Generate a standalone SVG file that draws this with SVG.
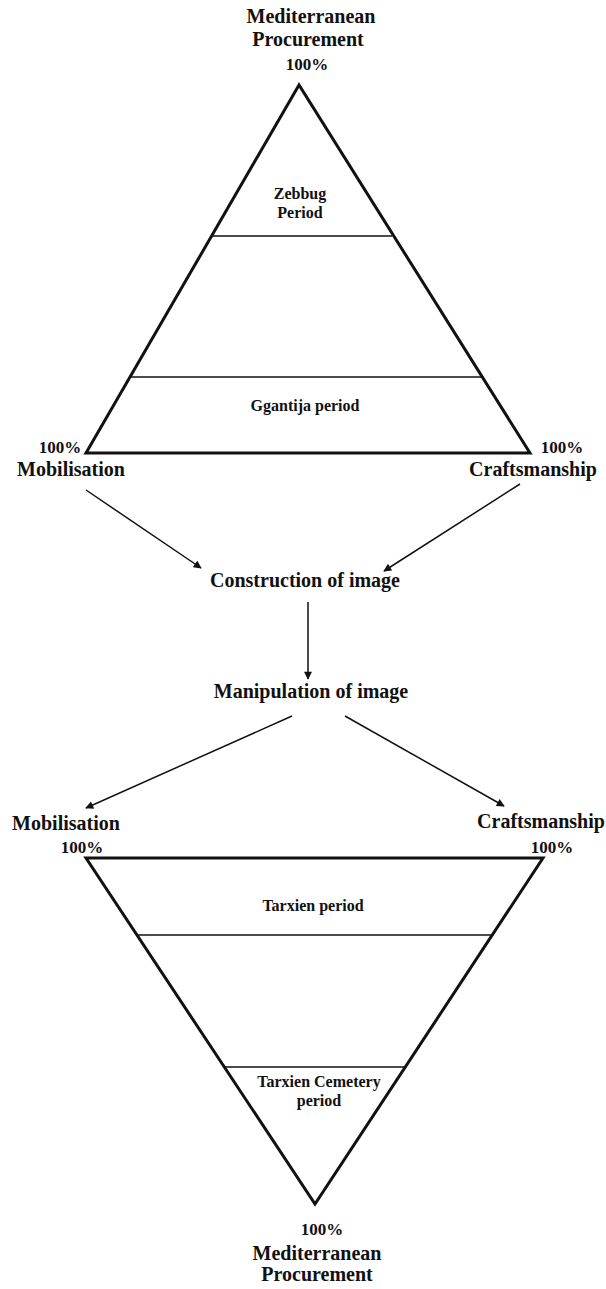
<svg xmlns="http://www.w3.org/2000/svg" width="606" height="1289" viewBox="0 0 606 1289">
<style>
text{font-family:"Liberation Serif","Times New Roman",serif;font-weight:bold;fill:#111;text-anchor:middle}
.lg{font-size:20px}
.pc{font-size:17px}
.in{font-size:16px}
.tri{fill:none;stroke:#111;stroke-width:3;stroke-linejoin:miter}
.band{stroke:#111;stroke-width:1.6}
.arr{stroke:#111;stroke-width:1.5;fill:none;marker-end:url(#ah)}
</style>
<defs>
<marker id="ah" viewBox="0 0 10 10" refX="9" refY="5" markerWidth="9" markerHeight="8" markerUnits="userSpaceOnUse" orient="auto">
<path d="M0,0 L10,5 L0,10 z" fill="#111"/>
</marker>
</defs>
<rect width="606" height="1289" fill="#fff"/>
<g id="top-triangle">
<polygon class="tri" points="299,85 86,453 530,453"/>
<line class="band" x1="212" y1="236" x2="392" y2="236"/>
<line class="band" x1="130" y1="377" x2="482" y2="377"/>
<text class="in" x="300" y="199">Zebbug</text>
<text class="in" x="300" y="218">Period</text>
<text class="in" x="305" y="411">Ggantija period</text>
</g>
<g id="top-apex">
<text class="lg" x="311" y="23">Mediterranean</text>
<text class="lg" x="308" y="46">Procurement</text>
<text class="pc" x="307" y="70">100%</text>
</g>
<g id="top-left">
<text class="pc" x="60" y="453">100%</text>
<text class="lg" x="71" y="476">Mobilisation</text>
</g>
<g id="top-right">
<text class="pc" x="562" y="453">100%</text>
<text class="lg" x="533" y="476">Craftsmanship</text>
</g>
<g id="construction">
<text class="lg" x="305" y="587">Construction of image</text>
</g>
<g id="manipulation">
<text class="lg" x="311" y="698">Manipulation of image</text>
</g>
<g id="bottom-left">
<text class="lg" x="66" y="830">Mobilisation</text>
<text class="pc" x="82" y="853">100%</text>
</g>
<g id="bottom-right">
<text class="lg" x="541" y="828">Craftsmanship</text>
<text class="pc" x="552" y="853">100%</text>
</g>
<g id="bottom-triangle">
<polygon class="tri" points="86,858 543,858 315,1204"/>
<line class="band" x1="137" y1="935" x2="492" y2="935"/>
<line class="band" x1="224" y1="1067" x2="405" y2="1067"/>
<text class="in" x="313" y="911">Tarxien period</text>
<text class="in" x="319" y="1087">Tarxien Cemetery</text>
<text class="in" x="319" y="1106">period</text>
</g>
<g id="bottom-apex">
<text class="pc" x="322" y="1235">100%</text>
<text class="lg" x="317" y="1260">Mediterranean</text>
<text class="lg" x="317" y="1281">Procurement</text>
</g>
<g id="connectors">
<line class="arr" x1="86" y1="490" x2="201" y2="568"/>
<line class="arr" x1="520" y1="484" x2="384" y2="571"/>
<line class="arr" x1="308" y1="602" x2="308" y2="679"/>
<line class="arr" x1="292" y1="716" x2="86" y2="808"/>
<line class="arr" x1="345" y1="716" x2="504" y2="806"/>
</g>
</svg>
